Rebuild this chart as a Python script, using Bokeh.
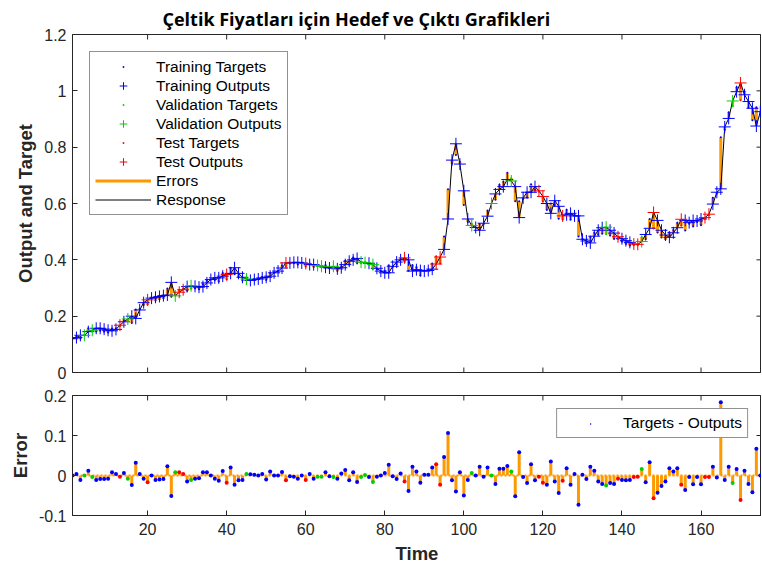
import numpy as np
from bokeh.plotting import figure
from bokeh.models import (ColumnDataSource, Range1d, FixedTicker,
                          Legend, LegendItem, CustomJSTickFormatter)
from bokeh.layouts import column
from bokeh.embed import file_html
from bokeh.resources import INLINE

# ---------------- data ----------------
outputs = [
    0.120, 0.124, 0.132, 0.132, 0.145, 0.150, 0.157, 0.157, 0.154, 0.150,
    0.148, 0.153, 0.168, 0.180, 0.190, 0.200, 0.192, 0.222, 0.248, 0.258,
    0.264, 0.267, 0.270, 0.273, 0.275, 0.320, 0.272, 0.285, 0.294, 0.305,
    0.308, 0.306, 0.303, 0.305, 0.318, 0.330, 0.336, 0.336, 0.342, 0.348,
    0.352, 0.372, 0.352, 0.338, 0.332, 0.327, 0.330, 0.332, 0.336, 0.338,
    0.342, 0.354, 0.360, 0.371, 0.389, 0.389, 0.391, 0.391, 0.389, 0.387,
    0.383, 0.383, 0.380, 0.377, 0.374, 0.371, 0.377, 0.368, 0.372, 0.383,
    0.395, 0.400, 0.405, 0.392, 0.390, 0.388, 0.383, 0.370, 0.360, 0.354,
    0.354, 0.377, 0.392, 0.400, 0.407, 0.400, 0.360, 0.365, 0.362, 0.360,
    0.362, 0.367, 0.385, 0.410, 0.437, 0.545, 0.754, 0.812, 0.740, 0.645,
    0.545, 0.522, 0.515, 0.505, 0.530, 0.555, 0.600, 0.634, 0.650, 0.660,
    0.685, 0.680, 0.660, 0.550, 0.620, 0.640, 0.640, 0.660, 0.645, 0.625,
    0.600, 0.565, 0.610, 0.590, 0.556, 0.560, 0.565, 0.556, 0.556, 0.473,
    0.467, 0.460, 0.484, 0.505, 0.514, 0.516, 0.505, 0.495, 0.482, 0.475,
    0.468, 0.462, 0.456, 0.455, 0.465, 0.490, 0.512, 0.568, 0.540, 0.505,
    0.488, 0.480, 0.496, 0.514, 0.544, 0.540, 0.532, 0.540, 0.538, 0.545,
    0.550, 0.562, 0.598, 0.640, 0.652, 0.872, 0.902, 0.964, 0.997, 1.028,
    0.986, 0.962, 0.938, 0.875, 0.926,
]
errors = [
    0.000, 0.004, -0.011, 0.000, 0.012, -0.004, -0.011, -0.009, -0.009, -0.008,
    0.008, 0.004, -0.003, 0.006, -0.008, -0.024, 0.032, 0.004, -0.008, -0.017,
    0.000, -0.011, -0.010, -0.009, 0.023, -0.051, 0.008, 0.008, 0.004, -0.015,
    -0.011, -0.008, -0.007, 0.008, 0.008, 0.000, -0.008, -0.013, 0.011, -0.018,
    0.020, -0.023, -0.012, -0.011, 0.004, 0.003, 0.002, 0.000, 0.004, -0.010,
    0.010, 0.000, 0.000, 0.009, -0.012, -0.002, -0.003, -0.008, 0.000, -0.011,
    0.004, -0.008, -0.003, -0.003, 0.008, -0.002, -0.004, -0.008, 0.005, 0.014,
    -0.012, 0.008, -0.016, -0.004, 0.001, -0.004, -0.016, -0.003, 0.000, 0.006,
    0.027, -0.002, -0.009, 0.005, -0.015, -0.039, 0.022, 0.010, -0.018, 0.002,
    0.002, 0.020, 0.028, -0.023, 0.046, 0.106, -0.012, -0.040, 0.008, -0.050,
    -0.011, 0.006, 0.000, 0.022, -0.003, 0.020, 0.000, -0.021, 0.017, 0.017,
    0.024, 0.010, -0.052, 0.058, -0.004, -0.019, 0.028, -0.012, -0.003, -0.018,
    -0.023, 0.035, -0.015, -0.044, -0.013, 0.018, -0.023, 0.004, -0.073, 0.002,
    -0.009, 0.022, 0.012, -0.015, -0.021, -0.025, -0.019, -0.021, -0.008, -0.011,
    -0.012, -0.011, -0.004, -0.003, 0.016, -0.017, 0.033, -0.057, -0.043, -0.026,
    -0.015, 0.018, 0.010, 0.018, -0.023, -0.036, -0.004, -0.022, -0.004, -0.022,
    -0.004, -0.004, 0.022, -0.005, 0.183, -0.011, 0.022, -0.019, 0.016, -0.061,
    0.012, -0.021, -0.042, 0.067, 0.000,
]
validation_steps = [4, 6, 15, 27, 31, 45, 63, 64, 67, 74, 75, 77, 102, 107,
                    112, 136, 145, 168]
test_steps = [13, 20, 28, 29, 40, 55, 60, 85, 93, 94, 119, 120, 125, 139,
              143, 144, 148, 155, 161, 162, 170]
x_ticks = [20, 40, 60, 80, 100, 120, 140, 160]
top_y_ticks = [0, 0.2, 0.4, 0.6, 0.8, 1.0, 1.2]
err_y_ticks = [-0.1, 0, 0.1, 0.2]

TITLE = "Çeltik Fiyatları için Hedef ve Çıktı Grafikleri"

# ---------------- derived ----------------
out = np.array(outputs)
err = np.array(errors)
tgt = out + err
n = len(out)
t = np.arange(1, n + 1)
group = np.array(["train"] * n, dtype=object)
group[np.array(validation_steps) - 1] = "val"
group[np.array(test_steps) - 1] = "test"

BLUE, GREEN, RED = "#0000ff", "#00d000", "#ff0000"
ORANGE = "#ff9900"
AX = "#262626"
FONT = "Liberation Sans"
W = 761

fmt = CustomJSTickFormatter(code="return String(Math.round(tick*10)/10)")


def style_axis(ax, label_size="16px"):
    ax.major_tick_in = 5
    ax.major_tick_out = 0
    ax.minor_tick_line_color = None
    ax.axis_line_color = AX
    ax.major_tick_line_color = AX
    ax.major_label_text_color = AX
    ax.major_label_text_font = FONT
    ax.major_label_text_font_size = label_size
    ax.axis_label_text_font = FONT
    ax.axis_label_text_font_style = "bold"
    ax.axis_label_text_font_size = "18.5px"
    ax.axis_label_text_color = AX


def box_ticks(p, yticks, bottom_too):
    """Inward tick marks on the mirrored box edges (top / right / bottom)."""
    xr, yr = p.x_range, p.y_range
    xt = np.array(x_ticks, dtype=float)
    yt = np.array(yticks, dtype=float)
    p.scatter(xt, np.full(len(xt), yr.end), marker="dash", size=10,
              angle=np.pi / 2, line_color=AX, line_width=1)
    if bottom_too:
        p.scatter(xt, np.full(len(xt), yr.start), marker="dash", size=10,
                  angle=np.pi / 2, line_color=AX, line_width=1)
    p.scatter(np.full(len(yt), xr.end), yt, marker="dash", size=10,
              line_color=AX, line_width=1)


x_range = Range1d(1, 175.3)

# ---------------- top panel ----------------
top = figure(width=W, height=381, x_range=x_range, y_range=Range1d(0, 1.2),
             output_backend="svg", toolbar_location=None,
             min_border_left=72, min_border_right=0, min_border_bottom=9,
             min_border_top=29, background_fill_color="white")
top.title.text = TITLE
top.title.align = "left"
top.title.offset = 90
top.title.text_font = "Open Sans"
top.title.text_font_style = "bold"
top.title.text_font_size = "18px"
top.title.text_color = "black"
top.title.standoff = 8
top.grid.visible = False
top.xaxis.visible = False
top.outline_line_color = AX
style_axis(top.yaxis[0])
top.yaxis[0].ticker = FixedTicker(ticks=top_y_ticks)
top.yaxis[0].formatter = fmt
top.yaxis[0].major_label_standoff = 6
top.yaxis[0].axis_label = "Output and Target"
top.yaxis[0].axis_label_standoff = 5
box_ticks(top, top_y_ticks, bottom_too=True)

src_all = ColumnDataSource(dict(t=t, tgt=tgt, out=out, zero=np.zeros(n), err=err))
r_err = top.segment(x0="t", y0="tgt", x1="t", y1="out", source=src_all,
                    line_color=ORANGE, line_width=3)
r_resp = top.line("t", "out", source=src_all, line_color="black", line_width=1)

cols = {"train": BLUE, "val": GREEN, "test": RED}
tgt_r, out_r, edot_r = {}, {}, {}
for g in ["train", "val", "test"]:
    m = group == g
    s = ColumnDataSource(dict(t=t[m], tgt=tgt[m], out=out[m], err=err[m]))
    tgt_r[g] = top.scatter("t", "tgt", source=s, marker="dot", size=8,
                           line_color=cols[g], fill_color=cols[g])
    out_r[g] = top.scatter("t", "out", source=s, marker="cross", size=12,
                           line_color=cols[g], line_width=1)

leg = Legend(items=[
    LegendItem(label="Training Targets", renderers=[tgt_r["train"]]),
    LegendItem(label="Training Outputs", renderers=[out_r["train"]]),
    LegendItem(label="Validation Targets", renderers=[tgt_r["val"]]),
    LegendItem(label="Validation Outputs", renderers=[out_r["val"]]),
    LegendItem(label="Test Targets", renderers=[tgt_r["test"]]),
    LegendItem(label="Test Outputs", renderers=[out_r["test"]]),
    LegendItem(label="Errors", renderers=[r_err]),
    LegendItem(label="Response", renderers=[r_resp]),
], location="top_left", margin=17, padding=5, spacing=0,
    glyph_width=56, glyph_height=19, label_height=19, label_standoff=5,
    label_text_font=FONT, label_text_font_size="15.5px", label_text_color="black",
    border_line_color=AX, border_line_width=1, background_fill_alpha=1)
top.add_layout(leg)

# ---------------- bottom panel ----------------
bot = figure(width=W, height=185, x_range=x_range, y_range=Range1d(-0.1, 0.2),
             output_backend="svg", toolbar_location=None,
             min_border_left=72, min_border_right=0, min_border_top=14,
             min_border_bottom=0, background_fill_color="white")
bot.grid.visible = False
bot.outline_line_color = AX
style_axis(bot.yaxis[0])
style_axis(bot.xaxis[0])
bot.yaxis[0].ticker = FixedTicker(ticks=err_y_ticks)
bot.yaxis[0].formatter = fmt
bot.yaxis[0].major_label_standoff = 6
bot.yaxis[0].axis_label = "Error"
bot.yaxis[0].axis_label_standoff = 5
bot.xaxis[0].ticker = FixedTicker(ticks=x_ticks)
bot.xaxis[0].major_label_standoff = 7
bot.xaxis[0].axis_label = "Time"
bot.xaxis[0].axis_label_standoff = 5
box_ticks(bot, err_y_ticks, bottom_too=False)

bot.line(x=[t[0], t[-1]], y=[0, 0], line_color=ORANGE, line_width=2, line_dash="2 2")
bot.segment(x0="t", y0="zero", x1="t", y1="err", source=src_all,
            line_color=ORANGE, line_width=3)
for g in ["train", "val", "test"]:
    m = group == g
    s = ColumnDataSource(dict(t=t[m], err=err[m]))
    edot_r[g] = bot.scatter("t", "err", source=s, marker="dot", size=16,
                            line_color=cols[g], fill_color=cols[g])

leg2 = Legend(items=[LegendItem(label="Targets - Outputs", renderers=[edot_r["train"]])],
              location="top_right", margin=13, padding=5, glyph_width=56,
              glyph_height=15, label_height=15, label_standoff=5,
              label_text_font=FONT, label_text_font_size="15.5px", label_text_color="black",
              border_line_color=AX, border_line_width=1, background_fill_alpha=1)
bot.add_layout(leg2)

layout = column(top, bot, spacing=0)
open("out.html", "w").write(file_html(layout, INLINE))
